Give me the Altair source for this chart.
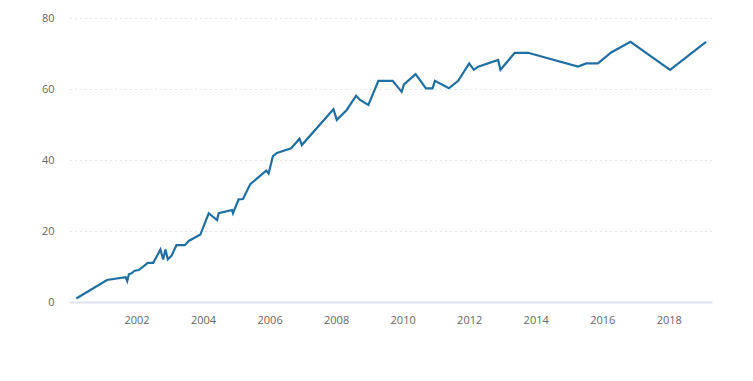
import altair as alt
import pandas as pd

years = [2000.19, 2001.11, 2001.67, 2001.72, 2001.77, 2001.85, 2001.94, 2002.07, 2002.34, 2002.5,
         2002.72, 2002.8, 2002.87, 2002.94, 2003.05, 2003.2, 2003.45, 2003.57, 2003.92, 2004.17,
         2004.42, 2004.47, 2004.87, 2004.9, 2005.07, 2005.2, 2005.42, 2005.9, 2005.97, 2006.1,
         2006.22, 2006.65, 2006.9, 2006.97, 2007.92, 2008.02, 2008.32, 2008.6, 2008.72, 2008.97,
         2009.27, 2009.7, 2009.97, 2010.04, 2010.39, 2010.7, 2010.9, 2010.97, 2011.39, 2011.67,
         2012.0, 2012.14, 2012.27, 2012.87, 2012.94, 2013.37, 2013.77, 2015.27, 2015.52, 2015.87,
         2016.27, 2016.85, 2018.04, 2019.12]
values = [1.0, 6.2, 7.0, 5.9, 7.8, 8.1, 8.8, 9.0, 11.0, 11.0,
          14.8, 12.0, 14.8, 12.0, 13.0, 16.0, 16.0, 17.2, 19.0, 25.0,
          23.1, 25.0, 25.9, 25.0, 28.9, 29.0, 33.2, 37.0, 36.2, 41.1,
          42.0, 43.3, 46.0, 44.2, 54.3, 51.3, 54.1, 58.1, 56.9, 55.5,
          62.3, 62.3, 59.2, 61.3, 64.2, 60.2, 60.2, 62.3, 60.2, 62.3,
          67.2, 65.4, 66.3, 68.2, 65.4, 70.2, 70.2, 66.3, 67.2, 67.2,
          70.3, 73.3, 65.4, 73.3]
x_ticks = [2002, 2004, 2006, 2008, 2010, 2012, 2014, 2016, 2018]
y_ticks = [0, 20, 40, 60, 80]

df = pd.DataFrame({"year": years, "value": values})

font = "Open Sans"

line = alt.Chart(df).mark_line(color="#1f6fa3", strokeWidth=2.2).encode(
    x=alt.X("year:Q",
            scale=alt.Scale(domain=[2000.0, 2019.3], nice=False, zero=False),
            axis=alt.Axis(values=x_ticks, format="d", title=None, grid=False,
                          ticks=False, domain=True, domainColor="#dde4ef", domainWidth=2,
                          labelPadding=12, labelColor="#666666", labelFont=font,
                          labelFontSize=11)),
    y=alt.Y("value:Q",
            scale=alt.Scale(domain=[0, 80], nice=False),
            axis=alt.Axis(values=y_ticks, title=None, grid=True, gridDash=[1, 4],
                          gridColor="#cccccc", ticks=False, domain=False,
                          labelPadding=16, labelColor="#666666", labelFont=font,
                          labelFontSize=11)),
)

chart = line.properties(
    width=642, height=284,
    autosize=alt.AutoSizeParams(type="none"),
    padding={"left": 62, "top": 10, "right": 30, "bottom": 60},
).configure_view(stroke=None)

chart.save("out.html", embed_options={"renderer": "svg", "actions": False})
